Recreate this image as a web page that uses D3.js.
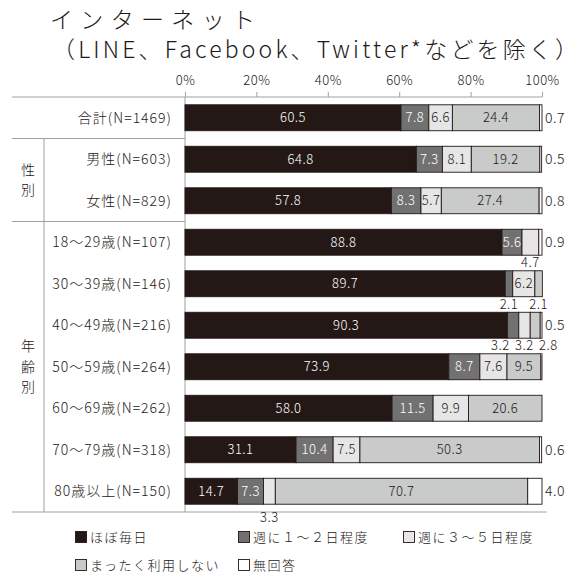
<!DOCTYPE html>
<html>
<head>
<meta charset="utf-8">
<script src="https://cdn.jsdelivr.net/npm/d3@7"></script>
<style>
  html, body { margin: 0; padding: 0; background: #fff; }
  svg { display: block; font-family: "Noto Sans CJK JP", "Noto Sans", sans-serif; }
</style>
</head>
<body>
<svg id="chart" width="584" height="579"></svg>
<script>
// Internet usage frequency by respondent group (percent)
const titleLines = ["インターネット", "（LINE、Facebook、Twitter*などを除く）"];
const categories = ["合計(N=1469)", "男性(N=603)", "女性(N=829)",
  "18～29歳(N=107)", "30～39歳(N=146)", "40～49歳(N=216)", "50～59歳(N=264)",
  "60～69歳(N=262)", "70～79歳(N=318)", "80歳以上(N=150)"];
const seriesNames = ["ほぼ毎日", "週に１～２日程度", "週に３～５日程度", "まったく利用しない", "無回答"];
const seriesColors = ["#231815", "#727171", "#e6e6e6", "#c9caca", "#ffffff"];
const daily     = [60.5, 64.8, 57.8, 88.8, 89.7, 90.3, 73.9, 58.0, 31.1, 14.7];
const weekly12  = [7.8, 7.3, 8.3, 5.6, 2.1, 3.2, 8.7, 11.5, 10.4, 7.3];
const weekly35  = [6.6, 8.1, 5.7, 4.7, 6.2, 3.2, 7.6, 9.9, 7.5, 3.3];
const never     = [24.4, 19.2, 27.4, 0.0, 2.1, 2.8, 9.5, 20.6, 50.3, 70.7];
const noAnswer  = [0.7, 0.5, 0.8, 0.9, 0.0, 0.5, 0.3, 0.0, 0.6, 4.0];
const tickValues = [0, 20, 40, 60, 80, 100];
const groups = [
  { chars: ["性", "別"], from: 1, to: 2 },
  { chars: ["年", "齢", "別"], from: 3, to: 9 }
];

const series = [daily, weekly12, weekly35, never, noAnswer];
const ink = "#231815";
const rule = "#a0a0a0";

const svg = d3.select("#chart");

// Title, two lines stretched to the header width
svg.append("text").attr("x", 50).attr("y", 28)
  .attr("font-size", 23).attr("font-weight", 300).attr("fill", ink)
  .attr("textLength", 205).attr("lengthAdjust", "spacing")
  .text(titleLines[0]);
svg.append("text").attr("x", 52).attr("y", 58)
  .attr("font-size", 23).attr("font-weight", 300).attr("fill", ink)
  .attr("textLength", 526).attr("lengthAdjust", "spacing")
  .text(titleLines[1]);

const x = d3.scaleLinear().domain([0, 100]).range([185, 542]);
const y = d3.scaleBand().domain(categories).range([97, 512])
  .paddingInner(0.375).paddingOuter(0.1875);

// Stacked rows
const rows = categories.map((c, i) => {
  let acc = 0;
  return series.map((s, k) => {
    const seg = { cat: c, row: i, k, v: s[i], x0: acc, x1: acc + s[i] };
    acc += s[i];
    return seg;
  });
});
const segs = rows.flat().filter(d => d.v > 0);

// Axis
const axis = d3.axisTop(x).tickValues(tickValues).tickFormat(d => d + "%")
  .tickSize(5).tickPadding(7);
const gAxis = svg.append("g").attr("transform", "translate(0,97)").call(axis);
gAxis.select(".domain").remove();
gAxis.selectAll(".tick line").attr("stroke", rule);
gAxis.selectAll(".tick text").attr("font-size", 13).attr("fill", ink)
  .attr("font-weight", 300).attr("letter-spacing", 0.5)
  .attr("font-family", "\"Noto Sans CJK JP\", sans-serif");

// Table rules
const step = y.step();
const gap = step * y.paddingInner() / 2;
const boundary = i => y(categories[i]) - gap;
const lines = [
  [12, 97, 542, 97],
  [12, boundary(1), 185, boundary(1)],
  [12, boundary(3), 185, boundary(3)],
  [44, boundary(1), 44, 512],
  [185, 97, 185, 512],
  [12, 512, 547, 512]
];
svg.append("g").selectAll("line").data(lines).join("line")
  .attr("x1", d => d[0]).attr("y1", d => d[1]).attr("x2", d => d[2]).attr("y2", d => d[3])
  .attr("stroke", rule).attr("stroke-width", 1);

// Category labels
svg.append("g").selectAll("text").data(categories).join("text")
  .attr("x", 172).attr("y", d => y(d) + y.bandwidth() / 2)
  .attr("dy", "0.36em").attr("text-anchor", "end")
  .attr("font-size", 14).attr("font-weight", 300).attr("letter-spacing", 1)
  .attr("fill", ink).text(d => d);

// Group labels (vertical)
groups.forEach(g => {
  const mid = (y(categories[g.from]) + y(categories[g.to]) + y.bandwidth()) / 2;
  const lh = 20.5;
  g.chars.forEach((ch, j) => {
    svg.append("text").attr("x", 28)
      .attr("y", mid + (j - (g.chars.length - 1) / 2) * lh)
      .attr("dy", "0.36em").attr("text-anchor", "middle")
      .attr("font-size", 14).attr("font-weight", 300).attr("fill", ink).text(ch);
  });
});

// Bars
svg.append("g").selectAll("rect").data(segs).join("rect")
  .attr("x", d => x(d.x0)).attr("y", d => y(d.cat))
  .attr("width", d => x(d.x1) - x(d.x0)).attr("height", y.bandwidth())
  .attr("fill", d => seriesColors[d.k])
  .attr("stroke", ink).attr("stroke-width", 0.9);

// Value labels
const fmt = d3.format(".1f");
const inside = segs.filter(d => d.v >= 5);
svg.append("g").selectAll("text").data(inside).join("text")
  .attr("x", d => (x(d.x0) + x(d.x1)) / 2)
  .attr("y", d => y(d.cat) + y.bandwidth() / 2)
  .attr("dy", "0.36em").attr("text-anchor", "middle")
  .attr("font-size", 13).attr("font-weight", 300).attr("letter-spacing", 0.5)
  .attr("fill", d => d.k < 2 ? "#ffffff" : ink)
  .text(d => fmt(d.v));

// Small no-answer values to the right of the bar
const right = segs.filter(d => d.v < 5 && d.k === 4 && d.v >= 0.5);
svg.append("g").selectAll("text").data(right).join("text")
  .attr("x", 545).attr("y", d => y(d.cat) + y.bandwidth() / 2)
  .attr("dy", "0.36em").attr("font-size", 14).attr("font-weight", 300)
  .attr("letter-spacing", 0.5).attr("fill", ink)
  .text(d => fmt(d.v));

// Other small values below the bar, spread apart when crowded
const below = [];
rows.forEach((r, i) => {
  const items = r.filter(d => d.v > 0 && d.v < 5 && d.k !== 4)
    .map(d => ({ ...d, cx: (x(d.x0) + x(d.x1)) / 2 }));
  const minGap = 24;
  for (let pass = 0; pass < 20; pass++) {
    for (let j = 1; j < items.length; j++) {
      const overlap = minGap - (items[j].cx - items[j - 1].cx);
      if (overlap > 0) {
        items[j - 1].cx -= overlap / 2;
        items[j].cx += overlap / 2;
      }
    }
  }
  const last = i === categories.length - 1;
  items.forEach(it => {
    it.ty = y(it.cat) + y.bandwidth() + (last ? 18 : 12);
    below.push(it);
  });
});
svg.append("g").selectAll("text").data(below).join("text")
  .attr("x", d => d.cx).attr("y", d => d.ty)
  .attr("text-anchor", "middle").attr("font-size", 13).attr("font-weight", 300)
  .attr("letter-spacing", 0.5).attr("fill", ink)
  .text(d => fmt(d.v));

// Legend
const legendPos = [[75, 537], [238, 537], [403, 537], [75, 565], [238, 565]];
const lg = svg.append("g").selectAll("g").data(seriesNames).join("g")
  .attr("transform", (d, i) => `translate(${legendPos[i][0]},${legendPos[i][1]})`);
lg.append("rect").attr("x", 0.5).attr("y", -5.5).attr("width", 11).attr("height", 11)
  .attr("fill", (d, i) => seriesColors[i]).attr("stroke", ink).attr("stroke-width", 0.9);
lg.append("text").attr("x", 15).attr("y", 0).attr("dy", "0.36em")
  .attr("font-size", 13).attr("font-weight", 300).attr("letter-spacing", 1.5).attr("fill", ink)
  .text(d => d);
</script>
</body>
</html>
